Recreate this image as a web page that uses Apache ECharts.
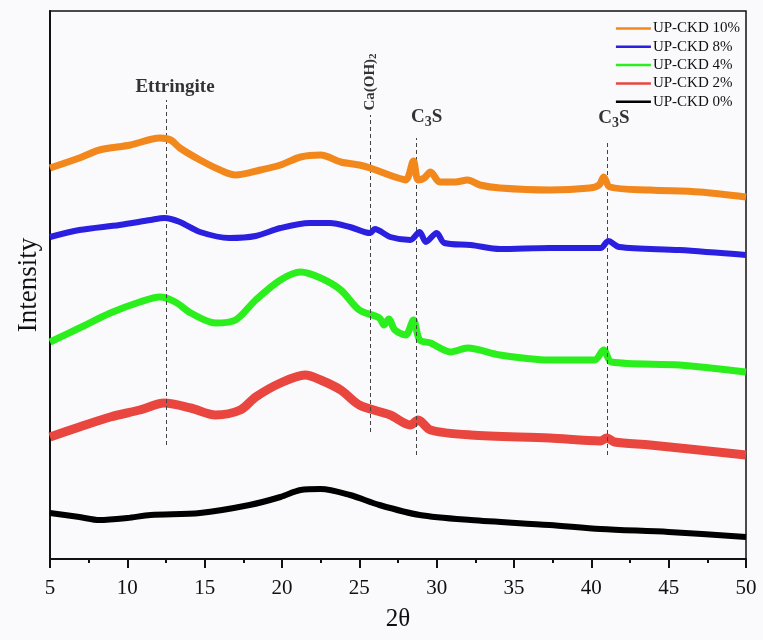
<!DOCTYPE html>
<html>
<head>
<meta charset="utf-8">
<script src="https://cdn.jsdelivr.net/npm/echarts@6/dist/echarts.min.js"></script>
<style>
  html, body { margin: 0; padding: 0; background: #faf9fb; }
  #chart { width: 763px; height: 640px; }
</style>
</head>
<body>
<div id="chart"></div>
<script>
// 2θ / relative intensity readings per sample (offset stacked as in the figure)
const ckd10X = [5.0, 6.9, 8.2, 10.2, 12.1, 12.8, 13.4, 14.7, 16.0, 17.0, 18.6, 19.9, 21.2, 22.5, 23.8, 25.0, 25.7, 27.3, 28.0, 28.5, 28.8, 29.2, 29.6, 30.2, 31.2, 32.0, 32.8, 34.1, 37.3, 39.9, 40.5, 40.8, 41.2, 43.8, 47.0, 50.0]
const ckd10Y = [391, 401, 409, 414, 421, 419, 411, 399, 389, 384, 389, 394, 402, 404, 397, 394, 391, 382, 379, 398, 379, 381, 387, 377, 377, 379, 374, 371, 369, 371, 374, 382, 372, 369, 367, 362]

const ckd8X = [5.0, 6.9, 9.5, 11.5, 12.4, 13.4, 14.7, 16.6, 18.3, 19.9, 21.8, 23.1, 24.4, 25.7, 26.0, 27.0, 28.3, 28.9, 29.3, 30.0, 30.5, 32.2, 34.1, 37.3, 40.6, 41.1, 41.8, 45.7, 50.0]
const ckd8Y = [322, 329, 334, 339, 341, 337, 327, 321, 323, 331, 336, 336, 332, 326, 330, 322, 319, 327, 317, 326, 316, 314, 310, 311, 311, 318, 312, 309, 304]

const ckd4X = [5.0, 6.9, 8.9, 10.8, 12.1, 13.1, 14.1, 15.7, 17.0, 18.3, 19.9, 21.2, 22.5, 23.8, 25.0, 26.3, 26.6, 26.9, 27.3, 28.0, 28.5, 28.9, 29.6, 30.9, 32.0, 34.1, 37.3, 40.2, 40.8, 41.3, 45.7, 50.0]
const ckd4Y = [217, 231, 246, 257, 262, 257, 246, 236, 239, 259, 279, 287, 281, 269, 249, 241, 234, 240, 229, 224, 239, 219, 216, 207, 211, 204, 199, 199, 209, 197, 194, 187]

const ckd2X = [5.0, 6.9, 8.9, 10.8, 12.4, 14.1, 15.7, 17.3, 18.3, 19.9, 21.5, 22.5, 23.8, 25.0, 27.0, 28.3, 28.8, 29.6, 32.2, 37.3, 40.6, 41.0, 41.5, 43.8, 50.0]
const ckd2Y = [122, 132, 142, 149, 156, 151, 144, 149, 162, 176, 184, 179, 169, 154, 144, 134, 139, 129, 124, 121, 118, 121, 117, 114, 104]

const ckd0X = [5.0, 6.9, 8.2, 10.0, 11.5, 14.7, 17.9, 19.9, 21.2, 22.5, 24.4, 26.3, 28.9, 32.2, 37.3, 40.6, 45.0, 50.0]
const ckd0Y = [46, 42, 39, 41, 44, 46, 54, 62, 69, 70, 64, 54, 44, 39, 34, 30, 27, 22]

const seriesNames = ['UP-CKD 10%', 'UP-CKD 8%', 'UP-CKD 4%', 'UP-CKD 2%', 'UP-CKD 0%']

// phase reference lines and their labels
const phaseX = [12.5, 25.7, 28.7, 41.0]
const phaseLow = [114, 127, 104, 104]
const phaseHigh = [459, 444, 421, 419]
const phaseLabelY = [472, 479, 442, 441]
const phaseLabels = ['Ettringite', '{b|Ca(OH)}{s|2}', '{c|C}{t|3}{c|S}', '{c|C}{t|3}{c|S}']

const serif = "'Liberation Serif', 'Times New Roman', serif"
const zip = (xs, ys) => xs.map((x, i) => [x, ys[i]])

const curves = [
  { x: ckd10X, y: ckd10Y, color: '#f2881c', width: 7 },
  { x: ckd8X, y: ckd8Y, color: '#2b1fe0', width: 6 },
  { x: ckd4X, y: ckd4Y, color: '#2bef1c', width: 7 },
  { x: ckd2X, y: ckd2Y, color: '#e8463f', width: 9 },
  { x: ckd0X, y: ckd0Y, color: '#000000', width: 6 },
]

const chart = echarts.init(document.getElementById('chart'), null, { renderer: 'canvas' })

const labelOffsets = [[9, 0], [-2, 0], [10, 0], [7, 0]]

chart.setOption({
  animation: false,
  backgroundColor: '#faf9fb',
  grid: {
    left: 50, right: 17, top: 11, bottom: 81,
    show: true, borderColor: '#111', borderWidth: 1.5,
  },
  legend: {
    data: seriesNames,
    orient: 'vertical',
    right: 18,
    top: 16,
    itemGap: 3.3,
    itemWidth: 35,
    itemHeight: 2.5,
    icon: 'rect',
    textStyle: { fontFamily: serif, fontSize: 15, color: '#111', lineHeight: 15, padding: [0, 0, 0, -3] },
  },
  xAxis: {
    type: 'value',
    min: 5, max: 50, interval: 5,
    name: '2θ',
    nameLocation: 'middle',
    nameGap: 48,
    nameTextStyle: { fontFamily: serif, fontSize: 25, color: '#111' },
    axisLine: { lineStyle: { color: '#111', width: 2 } },
    axisTick: { show: true, length: 9, lineStyle: { color: '#111', width: 2 } },
    minorTick: { show: true, splitNumber: 2, length: 4, lineStyle: { color: '#111', width: 2 } },
    axisLabel: { fontFamily: serif, fontSize: 21, color: '#111', margin: 19 },
    splitLine: { show: false },
  },
  yAxis: {
    type: 'value',
    min: 0, max: 548,
    name: 'Intensity',
    nameLocation: 'middle',
    nameGap: 8,
    nameTextStyle: { fontFamily: serif, fontSize: 27, color: '#111' },
    axisLine: { show: true, lineStyle: { color: '#111', width: 2 } },
    axisTick: { show: false },
    axisLabel: { show: false },
    splitLine: { show: false },
  },
  series: [
    ...curves.map((c, i) => ({
      name: seriesNames[i],
      type: 'line',
      data: zip(c.x, c.y),
      smooth: 0.3,
      symbol: 'none',
      color: c.color,
      lineStyle: { color: c.color, width: c.width },
      z: 2 + (4 - i),
    })),
    {
      name: 'phases',
      type: 'scatter',
      symbolSize: 0,
      z: 10,
      data: phaseX.map((x, i) => ({
        value: [x, phaseLabelY[i]],
        label: {
          show: true,
          position: 'inside',
          offset: labelOffsets[i],
          rotate: i === 1 ? 90 : 0,
          formatter: phaseLabels[i],
        },
      })),
      label: {
        fontFamily: serif,
        fontWeight: 'bold',
        fontSize: 19,
        color: '#000',
        rich: {
          b: { fontFamily: serif, fontWeight: 'bold', fontSize: 15, color: '#000' },
          s: { fontFamily: serif, fontWeight: 'bold', fontSize: 11, color: '#000', padding: [6, 0, 0, 0] },
          c: { fontFamily: serif, fontWeight: 'bold', fontSize: 19, color: '#000' },
          t: { fontFamily: serif, fontWeight: 'bold', fontSize: 14, color: '#000', padding: [10, 0, 0, 0] },
        },
      },
      markLine: {
        silent: true,
        symbol: 'none',
        label: { show: false },
        lineStyle: { color: '#444', type: [4, 3], width: 1 },
        data: phaseX.map((x, i) => [
          { coord: [x, phaseLow[i]] },
          { coord: [x, phaseHigh[i]] },
        ]),
      },
    },
  ],
})
</script>
</body>
</html>
